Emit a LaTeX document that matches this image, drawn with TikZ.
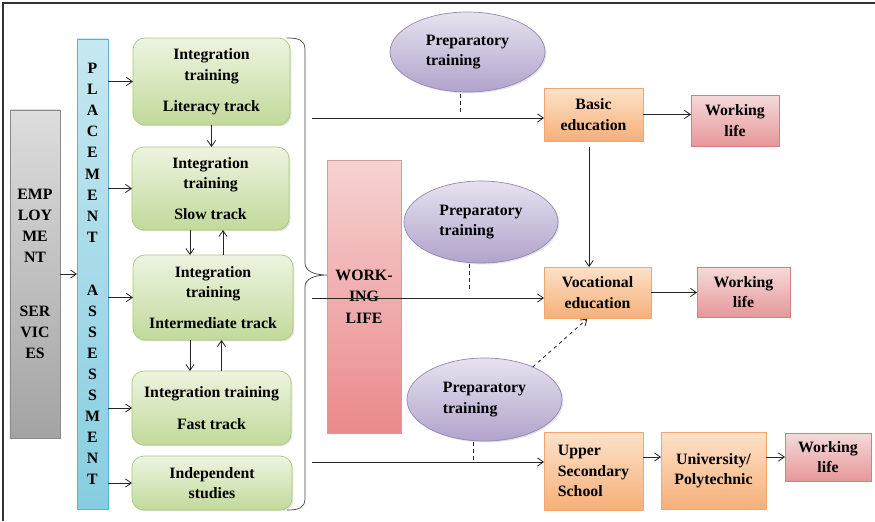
\documentclass[tikz,border=0pt]{standalone}
\usepackage{fontspec}
\setmainfont{Liberation Serif}
\usepackage{xcolor}
\usepackage{tikz}
\usetikzlibrary{shapes,arrows.meta,positioning,calc,shadows}

\definecolor{servtop}{HTML}{DDDDDD}
\definecolor{servbot}{HTML}{A3A3A3}
\definecolor{servline}{HTML}{8A8A8A}
\definecolor{placetop}{HTML}{C6E8F1}
\definecolor{placebot}{HTML}{86CDE0}
\definecolor{placeline}{HTML}{5CB3CB}
\definecolor{tracktop}{HTML}{EDF4E0}
\definecolor{trackbot}{HTML}{C2D99B}
\definecolor{trackline}{HTML}{A9C97A}
\definecolor{preptop}{HTML}{E7E2EF}
\definecolor{prepbot}{HTML}{B1A3CB}
\definecolor{prepline}{HTML}{9785B7}
\definecolor{edutop}{HTML}{FCE2CA}
\definecolor{edubot}{HTML}{F6AF78}
\definecolor{eduline}{HTML}{F3A56A}
\definecolor{worktop}{HTML}{F5DADA}
\definecolor{workbot}{HTML}{E6979A}
\definecolor{workline}{HTML}{D27F83}
\definecolor{bartop}{HTML}{F6D2D2}
\definecolor{barbot}{HTML}{EA898B}

\begin{document}
\begin{tikzpicture}[x=0.03cm, y=-0.03cm,
    >={Straight Barb[length=5pt,width=7pt]},
    every node/.style={font=\bfseries\fontsize{13.5}{17.5}\selectfont,
        inner sep=0pt, outer sep=0pt, align=center},
    box/.style={draw, line width=0.6pt,
        drop shadow={shadow xshift=1.2pt, shadow yshift=-1.2pt, opacity=0.22}},
    servbox/.style={box, draw=servline, top color=servtop, bottom color=servbot},
    placebox/.style={box, draw=placeline, top color=placetop, bottom color=placebot},
    trackbox/.style={box, rounded corners=10pt, draw=trackline, top color=tracktop, bottom color=trackbot},
    prepell/.style={box, ellipse, draw=prepline, top color=preptop, bottom color=prepbot},
    edubox/.style={box, draw=eduline, top color=edutop, bottom color=edubot},
    workbox/.style={box, draw=workline, top color=worktop, bottom color=workbot},
    flow/.style={->, line width=0.7pt, black!85},
    link/.style={dashed, line width=0.7pt, black!85}]
    \useasboundingbox (0,0) rectangle (875,521);

    % Frame
    \draw[line width=2pt, black!80] (3,521) -- (3,3) -- (875,3);

    % Services and placement
    \node[servbox, minimum width=1.5cm, minimum height=9.84cm,
        font=\bfseries\fontsize{13.5}{17.9}\selectfont] (serv) at (35,274)
        {EMP\\LOY\\ME\\NT\\[28pt]SER\\VIC\\ES};
    \node[placebox, minimum width=0.93cm, minimum height=14.1cm,
        font=\bfseries\fontsize{13.5}{18}\selectfont] (place) at (92.5,274)
        {P\\L\\A\\C\\E\\M\\E\\N\\T\\[27pt]A\\S\\S\\E\\S\\S\\M\\E\\N\\T};

    % Training tracks
    \node[trackbox, minimum width=4.71cm, minimum height=2.61cm] (lit) at (211.5,81.5)
        {Integration\\training\\[9pt]Literacy track};
    \node[trackbox, minimum width=4.71cm, minimum height=2.49cm] (slow) at (210.5,188.5)
        {Integration\\training\\[9pt]Slow track};
    \node[trackbox, minimum width=4.8cm, minimum height=2.55cm] (inter) at (213,297.5)
        {Integration\\training\\[9pt]Intermediate track};
    \node[trackbox, minimum width=4.77cm, minimum height=2.22cm] (fast) at (211.5,408)
        {Integration training\\[9.5pt]Fast track};
    \node[trackbox, minimum width=4.8cm, minimum height=1.62cm] (indep) at (212,483)
        {Independent\\studies};

    % Brace
    \draw[line width=0.6pt, black!75] (287,38) .. controls (299,38) and (305,40) .. (305,50)
        -- (305,263) .. controls (305,271) and (314,275) .. (327,275)
        .. controls (314,275) and (305,279) .. (305,287)
        -- (305,498) .. controls (305,508) and (299,510) .. (287,510);

    % Working life bar
    \node[box, draw=workline!80, top color=bartop, bottom color=barbot,
        minimum width=2.22cm, minimum height=8.19cm,
        font=\bfseries\fontsize{13.5}{18.3}\selectfont] (wlbar) at (364,296.5)
        {WORK-\\ING\\LIFE};

    % Preparatory training
    \node[prepell, minimum width=4.65cm, minimum height=2.4cm, align=left] (ell1) at (467.5,52)
        {Preparatory\\training};
    \node[prepell, minimum width=4.62cm, minimum height=2.46cm, align=left] (ell2) at (481,222)
        {Preparatory\\training};
    \node[prepell, minimum width=4.65cm, minimum height=2.49cm, align=left] (ell3) at (484.5,399.5)
        {Preparatory\\training};

    % Education and working life
    \node[edubox, minimum width=2.97cm, minimum height=1.59cm] (basic) at (593.5,114.5)
        {Basic\\education};
    \node[edubox, minimum width=3.21cm, minimum height=1.53cm] (voc) at (597.5,292.5)
        {Vocational\\education};
    \node[edubox, minimum width=2.97cm, minimum height=2.34cm, align=left] (upper) at (593.5,471)
        {Upper\\Secondary\\School};
    \node[edubox, minimum width=3.15cm, minimum height=2.31cm] (univ) at (713.5,470.5)
        {University/\\Polytechnic};
    \node[workbox, minimum width=2.64cm, minimum height=1.53cm] (work1) at (735,120.5)
        {Working\\life};
    \node[workbox, minimum width=2.79cm, minimum height=1.5cm] (work2) at (743.5,292)
        {Working\\life};
    \node[workbox, minimum width=2.58cm, minimum height=1.44cm] (work3) at (828,457)
        {Working\\life};

    % Connectors on the left
    \draw[flow] (serv.east) -- (serv.east -| place.west);
    \foreach \n in {lit,slow,inter,fast,indep}
        \draw[flow] (\n.west -| place.east) -- (\n.west);
    \draw[flow] (lit.south) -- (lit.south |- slow.north);
    \draw[flow] ([xshift=-0.615cm]slow.south) -- ([xshift=-0.615cm]slow.south |- inter.north);
    \draw[flow] ([xshift=0.3cm]inter.north) -- ([xshift=0.3cm]inter.north |- slow.south);
    \draw[flow] ([xshift=-0.69cm]inter.south) -- ([xshift=-0.69cm]inter.south |- fast.north);
    \draw[flow] ([xshift=0.3cm]fast.north) -- ([xshift=0.3cm]fast.north |- inter.south);

    % Long connectors
    \coordinate (s1) at (312,118);
    \coordinate (s2) at (312,298);
    \coordinate (s3) at (312,462);
    \draw[flow] (s1) -- (s1 -| basic.west);
    \draw[flow] (s2) -- (s2 -| voc.west);
    \draw[flow] (s3) -- (s3 -| upper.west);

    % Dashed links
    \draw[link, shorten <=2pt, shorten >=4pt] ([xshift=-0.2cm]ell1.south) -- ([xshift=-0.2cm]ell1.south |- s1);
    \draw[link, shorten <=1pt, shorten >=5pt] ([xshift=-0.36cm]ell2.south) -- ([xshift=-0.36cm]ell2.south |- s2);
    \draw[link, shorten <=1pt] ([xshift=-0.32cm]ell3.south) -- ([xshift=-0.32cm]ell3.south |- s3);
    \draw[link, ->, shorten >=1pt] (ell3.34) -- ([xshift=-0.28cm]voc.south);

    % Connectors on the right
    \draw[flow, shorten <=5pt] ([xshift=-0.13cm]basic.south) -- ([xshift=-0.13cm]basic.south |- voc.north);
    \draw[flow] (basic.east) -- (basic.east -| work1.west);
    \draw[flow] (voc.east) -- (voc.east -| work2.west);
    \draw[flow] ([yshift=0.42cm]upper.east) -- ([yshift=0.42cm]upper.east -| univ.west);
    \draw[flow] (work3.west -| univ.east) -- (work3.west);
\end{tikzpicture}
\end{document}
